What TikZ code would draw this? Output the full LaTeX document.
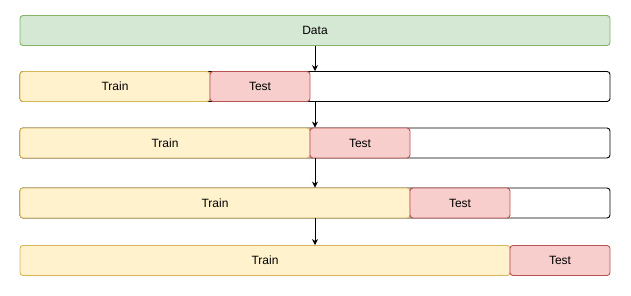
\documentclass[tikz,border=0pt]{standalone}
\usepackage{fontspec}
\setmainfont{Liberation Sans}
\usetikzlibrary{arrows.meta,
                positioning}

\definecolor{datafill}{HTML}{D5E8D4}
\definecolor{dataline}{HTML}{82B366}
\definecolor{trainfill}{HTML}{FFF2CC}
\definecolor{trainline}{HTML}{D6B656}
\definecolor{testfill}{HTML}{F8CECC}
\definecolor{testline}{HTML}{B85450}

\begin{document}
\begin{tikzpicture}[
        x=1pt, y=-1pt,
        font=\fontsize{12}{14}\selectfont,
        box/.style={rectangle, rounded corners=3pt, minimum height=30pt, inner sep=0pt, text centered, line width=0.9pt},
        datanode/.style={box, minimum width=590pt, draw=dataline, fill=datafill},
        rownode/.style={box, minimum width=590pt, draw=black, fill=white},
        trainnode/.style={box, draw=trainline, fill=trainfill},
        testnode/.style={box, minimum width=100pt, draw=testline, fill=testfill},
        link/.style={arrows=-{Stealth[length=6pt, width=6pt]}, line width=0.9pt}
        ]

        \useasboundingbox (0,0) rectangle (631,296);

        \node (data)   [datanode] at (315,30.5)                      {Data};

        \node (row1)   [rownode]  at (315,86.5)                      {};
        \node (train1) [trainnode, minimum width=190pt] at (115,86.5) {Train};
        \node (test1)  [testnode] at (260,86.5)                      {Test};

        \node (row2)   [rownode]  at (315,143)                       {};
        \node (train2) [trainnode, minimum width=290pt] at (165,143)  {Train};
        \node (test2)  [testnode] at (360,143)                       {Test};

        \node (row3)   [rownode]  at (315,203)                       {};
        \node (train3) [trainnode, minimum width=390pt] at (215,203)  {Train};
        \node (test3)  [testnode] at (460,203)                       {Test};

        \node (train4) [trainnode, minimum width=490pt] at (265,260.5) {Train};
        \node (test4)  [testnode] at (560,260.5)                     {Test};

        \draw [link] (data) -- (row1);
        \draw [link] (row1) -- (row2);
        \draw [link] (row2) -- (row3);
        \draw [link] (row3) -- (row3 |- train4.north);

    \end{tikzpicture}
\end{document}
